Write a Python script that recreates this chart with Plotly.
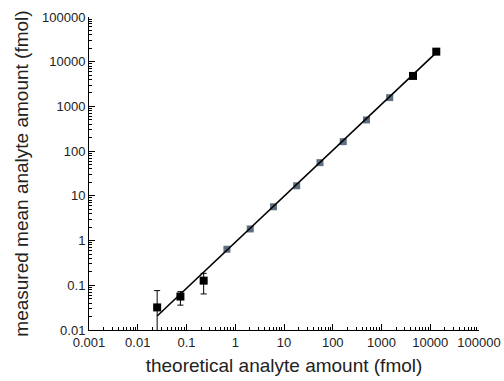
import plotly.graph_objects as go

# Theoretical (spiked) analyte amounts, fmol
theoretical = [0.025, 0.075, 0.225, 0.675, 2.03, 6.08, 18.2, 54.7, 164, 492, 1476, 4430, 13300]
# Measured mean analyte amounts, fmol
measured = [0.032, 0.056, 0.127, 0.64, 1.82, 5.7, 16.8, 55.3, 163, 499, 1574, 4810, 16800]
# Upper / lower error (SD), fmol
err_plus = [0.044, 0.016, 0.058, 0.05, 0.15, 0.45, 1.3, 4.0, 12, 35, 110, 300, 1100]
err_minus = [0.0315, 0.020, 0.063, 0.05, 0.15, 0.45, 1.3, 4.0, 12, 35, 110, 300, 1100]
# Points inside the linear range are drawn in grey, the rest in black
in_range = [False, False, False, True, True, True, True, True, True, True, True, False, False]

# Regression line end points
fit_x = [0.025, 13300]
fit_y = [0.0206, 16000]

tick_vals = [0.001, 0.01, 0.1, 1, 10, 100, 1000, 10000, 100000]
tick_text = ["0.001", "0.01", "0.1", "1", "10", "100", "1000", "10000", "100000"]
y_tick_vals = [0.01, 0.1, 1, 10, 100, 1000, 10000, 100000]
y_tick_text = ["0.01", "0.1", "1", "10", "100", "1000", "10000", "100000"]


def subset(values, flag):
    return [v for v, f in zip(values, in_range) if f == flag]


fig = go.Figure()

for flag, color, size in [(True, "#5d6f80", 7), (False, "black", 8)]:
    fig.add_trace(go.Scatter(
        x=subset(theoretical, flag), y=subset(measured, flag),
        mode="markers",
        marker=dict(symbol="square", size=size, color=color, line=dict(width=0)),
        error_y=dict(type="data", symmetric=False,
                     array=subset(err_plus, flag), arrayminus=subset(err_minus, flag),
                     color="black", thickness=1, width=3),
        showlegend=False,
    ))

fig.add_trace(go.Scatter(
    x=fit_x, y=fit_y, mode="lines",
    line=dict(color="black", width=1.6),
    showlegend=False,
))

axis_common = dict(
    type="log",
    automargin=False,
    showgrid=False, zeroline=False,
    showline=True, linecolor="black", linewidth=1,
    ticks="inside", ticklen=6, tickwidth=1, tickcolor="black",
    minor=dict(ticks="inside", ticklen=3, tickwidth=1, tickcolor="black", dtick="D1"),
    tickfont=dict(family="Liberation Sans, Arial, sans-serif", size=13, color="#222"),
    title_font=dict(family="Liberation Sans, Arial, sans-serif", size=19, color="#222"),
)

fig.update_xaxes(
    **axis_common,
    range=[-3, 5],
    tickvals=tick_vals, ticktext=tick_text,
    title_text="theoretical analyte amount (fmol)",
    title_standoff=10,
)
fig.update_yaxes(
    **axis_common,
    range=[-2, 5],
    tickvals=y_tick_vals, ticktext=y_tick_text,
    title_text="measured mean analyte amount (fmol)",
    title_standoff=8,
)

fig.update_layout(
    width=504, height=381,
    margin=dict(l=89, r=25, t=17, b=51),
    paper_bgcolor="white", plot_bgcolor="white",
)

fig.write_html("out.html")
